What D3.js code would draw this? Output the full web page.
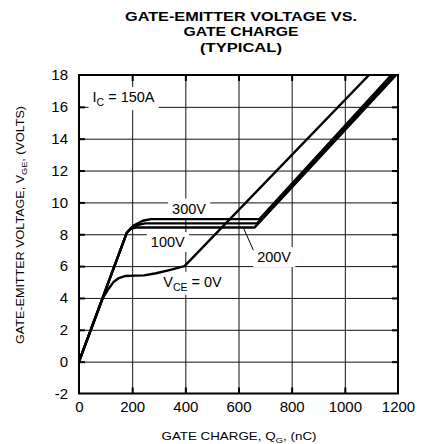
<!DOCTYPE html>
<html><head><meta charset="utf-8">
<script src="https://cdn.jsdelivr.net/npm/d3@7/dist/d3.min.js"></script>
<style>
body{margin:0;background:#fff;}
svg{display:block;}
text{font-family:"Liberation Sans",Arial,Helvetica,sans-serif;fill:#000;}
</style></head><body>
<svg id="chart" width="422" height="444"></svg>
<script>
// ---- data ----
const xTicks = [0, 200, 400, 600, 800, 1000, 1200];
const yTicks = [-2, 0, 2, 4, 6, 8, 10, 12, 14, 16, 18];
const titleLines = ["GATE-EMITTER VOLTAGE VS.", "GATE CHARGE", "(TYPICAL)"];

const charge0V = [0, 90, 110, 130, 150, 175, 210, 245, 290, 340, 397, 1091];
const volts0V  = [0, 4.0, 4.55, 5.0, 5.25, 5.38, 5.4, 5.42, 5.55, 5.75, 6.0, 18];
const charge100V = [0, 180, 195, 215, 660, 1193];
const volts100V  = [0, 8.1, 8.35, 8.42, 8.42, 18];
const charge200V = [0, 180, 200, 230, 250, 670, 1184];
const volts200V  = [0, 8.1, 8.45, 8.62, 8.68, 8.68, 18];
const charge300V = [0, 180, 205, 240, 270, 679, 1175];
const volts300V  = [0, 8.1, 8.55, 8.85, 8.95, 8.95, 18];

// ---- layout ----
const svg = d3.select("#chart");
const x = d3.scaleLinear().domain([0, 1200]).range([79, 398]);
const y = d3.scaleLinear().domain([-2, 18]).range([393.5, 75]);
const W = x(1200) - x(0), H = y(-2) - y(18);

const gridL = svg.append("g"), boxL = svg.append("g"), frameL = svg.append("g"),
      curveL = svg.append("g"), textL = svg.append("g");

// grid
const inX = xTicks.slice(1, -1), inY = yTicks.slice(1, -1);
gridL.append("g").attr("transform", `translate(0,${y(-2)})`)
  .call(d3.axisBottom(x).tickValues(inX).tickSize(-H).tickFormat(""));
gridL.append("g").attr("transform", `translate(${x(0)},0)`)
  .call(d3.axisLeft(y).tickValues(inY).tickSize(-W).tickFormat(""));
gridL.selectAll(".domain").remove();
gridL.selectAll("line").attr("stroke", "#111").attr("stroke-width", 1);

// inner ticks on four sides
const tk = 6;
frameL.append("g").attr("transform", `translate(0,${y(-2)})`).call(d3.axisBottom(x).tickValues(inX).tickSize(-tk).tickFormat(""));
frameL.append("g").attr("transform", `translate(0,${y(18)})`).call(d3.axisTop(x).tickValues(inX).tickSize(-tk).tickFormat(""));
frameL.append("g").attr("transform", `translate(${x(0)},0)`).call(d3.axisLeft(y).tickValues(inY).tickSize(-tk).tickFormat(""));
frameL.append("g").attr("transform", `translate(${x(1200)},0)`).call(d3.axisRight(y).tickValues(inY).tickSize(-tk).tickFormat(""));
frameL.selectAll(".domain").remove();
frameL.selectAll("line").attr("stroke", "#000").attr("stroke-width", 2);
frameL.append("rect").attr("x", x(0)).attr("y", y(18)).attr("width", W).attr("height", H)
  .attr("fill", "none").attr("stroke", "#000").attr("stroke-width", 2);

// tick labels
const fmt = d => String(d);
const xa = textL.append("g").attr("transform", `translate(0,${y(-2)})`)
  .call(d3.axisBottom(x).tickValues(xTicks).tickSize(0).tickPadding(8).tickFormat(fmt));
const ya = textL.append("g").attr("transform", `translate(${x(0)},0)`)
  .call(d3.axisLeft(y).tickValues(yTicks).tickSize(0).tickPadding(11).tickFormat(fmt));
textL.selectAll(".domain").remove();
textL.selectAll("g").attr("font-size", null).attr("font-family", null);
textL.selectAll(".tick text").style("font-size", "15px").attr("fill", "#000");

// curves
const clipId = "plotclip";
svg.append("defs").append("clipPath").attr("id", clipId).append("rect")
  .attr("x", x(0)).attr("y", y(18)).attr("width", W).attr("height", H);
const line = d3.line().x(d => x(d[0])).y(d => y(d[1]));
const series = [
  [charge0V, volts0V], [charge100V, volts100V], [charge200V, volts200V], [charge300V, volts300V]
];
series.forEach(([q, v]) => {
  curveL.append("path").datum(q.map((c, i) => [c, v[i]]))
    .attr("d", line).attr("fill", "none").attr("stroke", "#000")
    .attr("stroke-width", 2.4).attr("stroke-linejoin", "round")
    .attr("clip-path", `url(#${clipId})`);
});

// leader line for 200V label
curveL.append("line").attr("x1", x(618)).attr("y1", y(8.42)).attr("x2", x(656)).attr("y2", y(7.0))
  .attr("stroke", "#000").attr("stroke-width", 1);

// in-plot labels with white backing boxes
function label(parts, qx, vy, anchor, size) {
  const t = textL.append("text").attr("x", x(qx)).attr("y", y(vy))
    .attr("text-anchor", anchor).style("font-size", size + "px");
  parts.forEach(p => {
    if (p.sub) {
      t.append("tspan").style("font-size", (size * 0.72) + "px").attr("dy", size * 0.28).text(p.t);
    } else {
      t.append("tspan").attr("dy", p.after ? -size * 0.28 : 0).text(p.t);
    }
  });
  const b = t.node().getBBox();
  boxL.append("rect").attr("x", b.x - 4).attr("y", b.y - 2).attr("width", b.width + 8)
    .attr("height", b.height + 4).attr("fill", "#fff");
  return t;
}
label([{t: "I"}, {t: "C", sub: true}, {t: " = 150A", after: true}], 51, 16.3, "start", 14.5);
label([{t: "300V"}], 414, 9.3, "middle", 14.5);
label([{t: "100V"}], 334, 7.2, "middle", 14.5);
label([{t: "200V"}], 734, 6.25, "middle", 14.5);
label([{t: "V"}, {t: "CE", sub: true}, {t: " = 0V", after: true}], 317, 4.7, "start", 14.5);

// title
titleLines.forEach((s, i) => {
  const widths = [232, 115, 82];
  svg.append("text").attr("x", 241).attr("y", [20.7, 36.2, 51.8][i])
    .attr("text-anchor", "middle").style("font-size", "13px").attr("font-weight", "bold")
    .attr("textLength", widths[i]).attr("lengthAdjust", "spacingAndGlyphs").text(s);
});

// axis titles
const xt = svg.append("text").attr("x", 239).attr("y", 440).attr("text-anchor", "middle")
  .style("font-size", "11px").attr("textLength", 155).attr("lengthAdjust", "spacingAndGlyphs");
xt.append("tspan").text("GATE CHARGE, Q");
xt.append("tspan").style("font-size", "8px").attr("dy", 3).text("G");
xt.append("tspan").attr("dy", -3).text(", (nC)");

const yt = svg.append("text").attr("transform", "translate(24,225) rotate(-90)")
  .attr("text-anchor", "middle").style("font-size", "11px")
  .attr("textLength", 238).attr("lengthAdjust", "spacingAndGlyphs");
yt.append("tspan").text("GATE-EMITTER VOLTAGE, V");
yt.append("tspan").style("font-size", "8px").attr("dy", 3).text("GE");
yt.append("tspan").attr("dy", -3).text(", (VOLTS)");
</script>
</body></html>
